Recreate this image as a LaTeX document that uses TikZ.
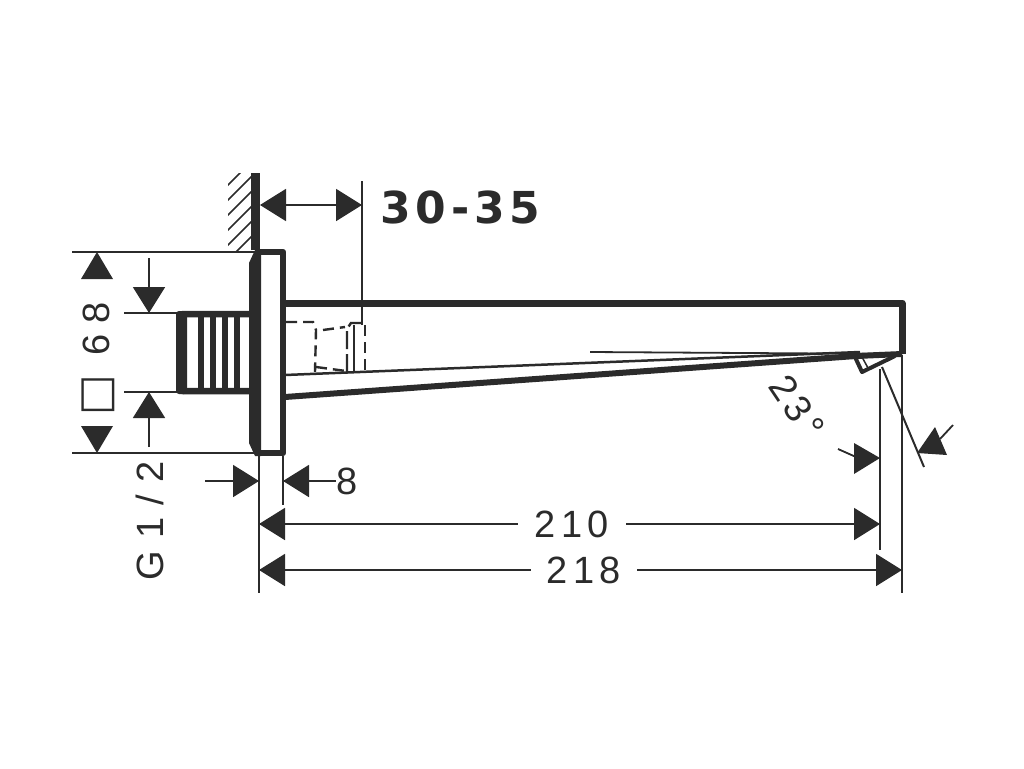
\documentclass[tikz,border=0pt]{standalone}
\usepackage{fontspec}
\setmainfont{Liberation Sans}
\newfontfamily\dimfont[LetterSpace=14]{Liberation Sans}
\newfontfamily\widefont[LetterSpace=32]{Liberation Sans}
\newfontfamily\boldfont[LetterSpace=11]{DejaVu Sans Bold}
\newfontfamily\symfont{DejaVu Sans}
\usetikzlibrary{arrows.meta}
\definecolor{ink}{HTML}{2B2B2B}
\tikzset{
    thin line/.style = {draw=ink, line width=1.8pt},
    wide line/.style = {draw=ink, line width=6.5pt, line cap=round, line join=round},
    rib/.style = {draw=ink, line width=6pt},
    hidden/.style = {draw=ink, line width=2.4pt, dash pattern=on 11pt off 6pt},
    dim arrow/.style = {thin line, -{Triangle[length=26pt,width=32pt]}},
    both arrow/.style = {thin line, {Triangle[length=26pt,width=32pt]}-{Triangle[length=26pt,width=32pt]}},
    label/.style = {text=ink, font=\fontsize{38}{38}\selectfont\dimfont, inner sep=1pt},
}
\begin{document}
\begin{tikzpicture}[x=1pt,y=-1pt]
    \useasboundingbox (0,0) rectangle (1024,768);
    % wall
    \begin{scope}
        \clip (228,173) rectangle (251,251);
        \foreach \y in {187,202,...,277}
            \draw[ink, line width=1.6pt] (226,\y) -- (253,\y-27);
    \end{scope}
    \fill[ink] (251,173) rectangle (260,250);
    % flange
    \coordinate (flangeTL) at (258,252);
    \coordinate (flangeTR) at (283,252);
    \coordinate (flangeBR) at (283,453);
    \coordinate (flangeBL) at (258,453);
    \draw[wide line] (flangeTL) -- (flangeTR) -- (flangeBR) -- (flangeBL);
    \fill[ink] (255,250) -- (261,250) -- (261,456) -- (255,456) -- (249,443) -- (249,263) -- cycle;
    % nipple
    \coordinate (nippleTR) at (250,314);
    \coordinate (nippleTL) at (180,314);
    \coordinate (nippleBL) at (180,391);
    \coordinate (nippleBR) at (250,391);
    \draw[wide line, line cap=butt, rounded corners=3pt] (nippleTR) -- (nippleTL) -- (nippleBL) -- (nippleBR);
    \fill[ink, rounded corners=3pt] (176,311) rectangle (187,394);
    \foreach \x in {201,213,225,237}
        \draw[rib] (\x,314) -- (\x,391);
    % spout
    \coordinate (spoutTL) at (285,303);
    \coordinate (spoutTR) at (902,303);
    \coordinate (spoutBR) at (902,354);
    \coordinate (wedgeL) at (285,397);
    \coordinate (wedgeR) at (856,356);
    \coordinate (innerL) at (285,375);
    \coordinate (innerR) at (860,352);
    \coordinate (seamL) at (590,352);
    \draw[draw=ink, line width=7pt, line join=round] (spoutTL) -- (spoutTR) -- (spoutBR);
    \draw[draw=ink, line width=6pt, line join=round] (wedgeL) -- (wedgeR) -- (spoutBR);
    \draw[draw=ink, line width=2.5pt] (innerL) -- (innerR);
    \draw[draw=ink, line width=1.8pt] (seamL) -- (spoutBR);
    % outlet
    \coordinate (outletA) at (855,357);
    \coordinate (outletB) at (862,372);
    \coordinate (outletC) at (895,356);
    \draw[draw=ink, line width=4pt, line join=round] (outletA) -- (outletB) -- (outletC);
    \draw[draw=ink, line width=1.5pt] (862,357) -- (868,368);
    % hidden thread
    \draw[hidden] (286,322) -- (313,322) -- (316,330) -- (315,372);
    \draw[hidden] (323,330) -- (345,327);
    \draw[hidden] (316,367) -- (346,371);
    \draw[hidden, dash pattern=on 18pt off 5pt] (347,372) -- (347,329) -- (351,323) -- (362,323);
    \draw[draw=ink, line width=2pt] (354,325) -- (354,372);
    \draw[hidden] (365,325) -- (365,370);
    % extension lines
    \draw[thin line] (72,252) -- (flangeTL);
    \draw[thin line] (72,453) -- (flangeBL);
    \draw[thin line] (124,313) -- (180,313);
    \draw[thin line] (124,392) -- (180,392);
    \coordinate (wallEdge) at (260,205);
    \coordinate (depthEnd) at (362,205);
    \draw[thin line] (362,181) -- (362,325);
    % dimension 68
    \coordinate (sizeTop) at (97,252);
    \coordinate (sizeBot) at (97,453);
    \fill[ink] (sizeTop) -- ++(16,27) -- ++(-32,0) -- cycle;
    \fill[ink] (sizeBot) -- ++(16,-27) -- ++(-32,0) -- cycle;
    \coordinate (nippleTopTail) at (149,258);
    \coordinate (nippleTopTip) at (149,313);
    \coordinate (nippleBotTail) at (149,447);
    \coordinate (nippleBotTip) at (149,392);
    \draw[dim arrow] (nippleTopTail) -- (nippleTopTip);
    \draw[dim arrow] (nippleBotTail) -- (nippleBotTip);
    \node[label, rotate=90, anchor=center] (size) at (98,359) {{\fontsize{43}{43}\symfont □}\hspace{19pt}6\hspace{11pt}8};
    % dimension 30-35
    \draw[both arrow] (wallEdge) -- (depthEnd);
    \node[text=ink, font=\fontsize{44}{44}\selectfont\boldfont, anchor=west, inner sep=0pt] (depth) at (380,207) {30-35};
    % dimensions below the flange
    \coordinate (flangeFoot) at (259,593);
    \coordinate (flangeHead) at (259,456);
    \coordinate (faceHead) at (283,456);
    \coordinate (faceFoot) at (283,505);
    \draw[thin line] (flangeHead) -- (flangeFoot);
    \draw[thin line] (faceHead) -- (faceFoot);
    \coordinate (threadTail) at (205,481);
    \coordinate (threadTip) at (259,481);
    \coordinate (eightTip) at (283,481);
    \draw[dim arrow] (threadTail) -- (threadTip);
    \node[label, font=\fontsize{38}{38}\selectfont\widefont, rotate=90] (thread) at (150,521) {G1/2};
    \node[label, anchor=center, inner sep=0pt] (eight) at (347,481) {8};
    \draw[dim arrow] (eight.west) -- (eightTip);
    % lengths
    \coordinate (shortEnd) at (880,369);
    \coordinate (shortFoot) at (880,550);
    \coordinate (longEnd) at (902,355);
    \coordinate (longFoot) at (902,593);
    \draw[thin line] (shortEnd) -- (shortFoot);
    \draw[thin line] (longEnd) -- (longFoot);
    \draw[both arrow] (259,524) -- (shortEnd |- 0,524) node[pos=0.504, label, fill=white, minimum width=108pt, inner ysep=0pt] (short) {210};
    \draw[both arrow] (259,570) -- (longEnd |- 0,570) node[pos=0.505, label, fill=white, minimum width=106pt, inner ysep=0pt] (long) {218};
    % angle
    \coordinate (angleTop) at (882,367);
    \coordinate (angleBot) at (924,467);
    \draw[draw=ink, line width=2pt] (angleTop) -- (angleBot);
    \coordinate (angleTailL) at (838,449);
    \coordinate (angleBaseL) at (856,457);
    \coordinate (angleTailR) at (953,425);
    \coordinate (angleBaseR) at (940,439);
    \draw[thin line] (angleTailL) -- (angleBaseL);
    \draw[thin line] (angleTailR) -- (angleBaseR);
    \fill[ink] (880,458) -- (854,443) -- (854,474) -- cycle;
    \fill[ink] (917,453) -- (935,427) -- (947,455) -- cycle;
    \node[label, rotate=-56] (angle) at (797,407) {23°};
\end{tikzpicture}
\end{document}
